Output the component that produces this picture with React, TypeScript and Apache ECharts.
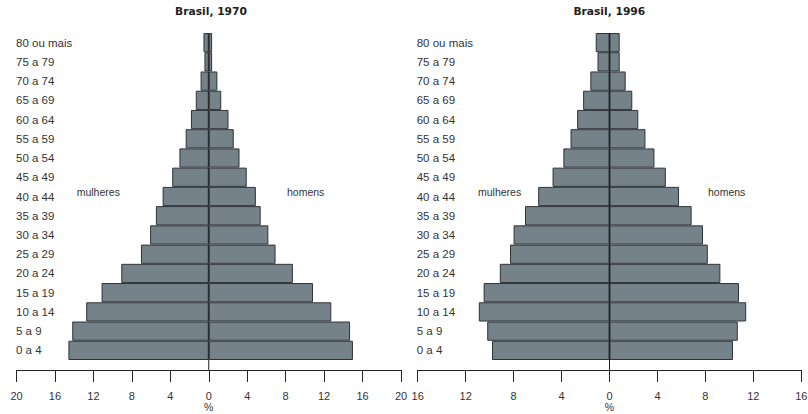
import React, { useEffect, useRef } from "react";
import * as echarts from "echarts";

const categories = [
  "0 a 4", "5 a 9", "10 a 14", "15 a 19", "20 a 24", "25 a 29", "30 a 34",
  "35 a 39", "40 a 44", "45 a 49", "50 a 54", "55 a 59", "60 a 64",
  "65 a 69", "70 a 74", "75 a 79", "80 ou mais",
];

// Brasil 1970 (% of population)
const women1970 = [14.6, 14.2, 12.75, 11.15, 9.1, 7.05, 6.1, 5.5, 4.8, 3.8, 3.05, 2.4, 1.85, 1.35, 0.85, 0.45, 0.55];
const men1970 = [15.0, 14.7, 12.75, 10.85, 8.75, 6.95, 6.2, 5.4, 4.9, 3.95, 3.2, 2.6, 2.05, 1.3, 0.9, 0.35, 0.35];

// Brasil 1996 (% of population)
const women1996 = [9.8, 10.2, 10.9, 10.5, 9.15, 8.3, 8.0, 7.05, 5.95, 4.75, 3.85, 3.25, 2.7, 2.2, 1.6, 1.0, 1.15];
const men1996 = [10.3, 10.7, 11.4, 10.8, 9.25, 8.2, 7.8, 6.85, 5.8, 4.7, 3.75, 3.0, 2.4, 1.9, 1.35, 0.85, 0.85];

const titles = ["Brasil, 1970", "Brasil, 1996"];
const axisMax = [20, 16];
const tickStep = 4;

const FILL = "#76828a";
const EDGE = "#2e3338";
const TEXT = "#333333";
const FONT = "Liberation Sans, Arial, sans-serif";

const GRID_TOP = 33;
const GRID_BOTTOM = 54; // bars end at y=360
const AXIS_OFFSET = 10; // x axis line at y=370

export default function App() {
  const ref = useRef<HTMLDivElement>(null);

  useEffect(() => {
    document.body.style.margin = "0";
    const chart = echarts.init(ref.current!, null, { renderer: "svg" });

    const grids = [
      { left: 16.5, right: 407, top: GRID_TOP, bottom: GRID_BOTTOM, outerBoundsMode: "none", containLabel: false },
      { left: 417.7, right: 6.7, top: GRID_TOP, bottom: GRID_BOTTOM, outerBoundsMode: "none", containLabel: false },
    ];
    const titleCenters = [211, 609.3];
    const panels = [
      { women: women1970, men: men1970 },
      { women: women1996, men: men1996 },
    ];

    const barStyle = { color: FILL, borderColor: EDGE, borderWidth: 1 };

    const option: any = {
      animation: false,
      backgroundColor: "#ffffff",
      title: titles.map((t, i) => ({
        text: t,
        left: titleCenters[i],
        top: 6,
        padding: 0,
        textAlign: "center",
        textStyle: {
          fontFamily: "DejaVu Sans, Verdana, sans-serif",
          fontWeight: "bold",
          fontSize: 10.7,
          color: "#222",
        },
      })),
      grid: grids,
      xAxis: axisMax.map((m, i) => ({
        type: "value",
        gridIndex: i,
        min: -m,
        max: m,
        interval: tickStep,
        offset: AXIS_OFFSET,
        position: "bottom",
        name: "%",
        nameLocation: "middle",
        nameGap: 31,
        nameMoveOverlap: false,
        nameTextStyle: { fontFamily: FONT, fontSize: 10.5, color: TEXT, lineHeight: 11 },
        axisLine: { show: true, onZero: false, lineStyle: { color: "#222", width: 1 } },
        axisTick: { show: true, length: 12, lineStyle: { color: "#222", width: 1 } },
        axisLabel: {
          margin: 20,
          fontFamily: FONT,
          fontSize: 11,
          color: TEXT,
          formatter: (v: number) => String(Math.abs(v)),
        },
        splitLine: { show: false },
      })),
      yAxis: [0, 1].map((i) => ({
        type: "category",
        gridIndex: i,
        data: categories,
        position: "left",
        axisLine: { show: false, onZero: false },
        axisTick: { show: false },
        axisLabel: {
          align: "left",
          margin: i === 0 ? 0.5 : 1,
          fontFamily: FONT,
          fontSize: 11.5,
          color: TEXT,
        },
        splitLine: { show: false },
      })),
      series: panels.flatMap((p, i) => [
        {
          name: "mulheres",
          type: "bar",
          xAxisIndex: i,
          yAxisIndex: i,
          data: p.women.map((v) => -v),
          barGap: "-100%",
          barCategoryGap: "0%",
          itemStyle: barStyle,
        },
        {
          name: "homens",
          type: "bar",
          xAxisIndex: i,
          yAxisIndex: i,
          data: p.men,
          barGap: "-100%",
          barCategoryGap: "0%",
          itemStyle: barStyle,
        },
      ]),
    };

    chart.setOption(option);

    // centre line (x = 0) running from the top of the bars to the offset x axis
    const totalH = 414;
    const axisY = totalH - GRID_BOTTOM + AXIS_OFFSET;
    const lines = [0, 1].map((i) => {
      const x0 = chart.convertToPixel({ xAxisIndex: i } as any, 0) as number;
      return {
        type: "line",
        z: 100,
        shape: { x1: x0, y1: GRID_TOP, x2: x0, y2: axisY },
        style: { stroke: "#222", lineWidth: 1 },
      };
    });

    const labelTexts = [
      { text: "mulheres", x: 76.7 },
      { text: "homens", x: 287 },
      { text: "mulheres", x: 478 },
      { text: "homens", x: 708 },
    ].map((l) => ({
      type: "text",
      x: l.x,
      y: 192,
      z: 100,
      style: {
        text: l.text,
        fontFamily: FONT,
        fontSize: 10.5,
        fill: TEXT,
        verticalAlign: "middle",
        align: "left",
      },
    }));

    chart.setOption({ graphic: [...lines, ...labelTexts] });

    return () => chart.dispose();
  }, []);

  return (
    <div
      ref={ref}
      style={{ position: "fixed", left: 0, top: 0, width: 808, height: 414 }}
    />
  );
}
